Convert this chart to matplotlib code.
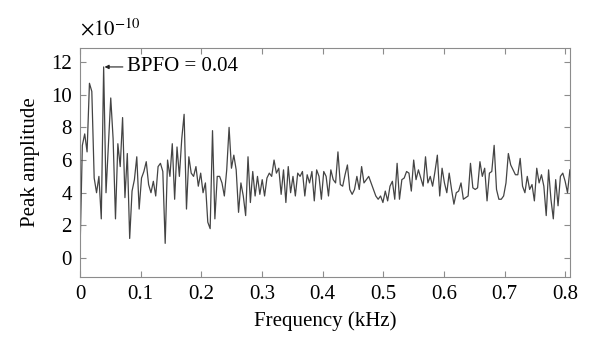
import numpy as np
import matplotlib
matplotlib.use('Agg')
import matplotlib.pyplot as plt

plt.rcParams['font.family'] = ['Liberation Serif', 'DejaVu Serif']
plt.rcParams['mathtext.fontset'] = 'stix'

# spectrum bin spacing (kHz) and peak amplitudes (x1e-10)
freq_step = 0.0039
amp_0 = [0.3, 6.9, 7.6, 6.5, 10.7, 10.2, 4.9, 4.0, 5.0, 2.4, 11.7, 4.0, 6.9, 9.8, 7.3, 2.4,
         7.0, 5.6, 8.6, 3.7, 6.4, 1.2, 4.1, 4.8, 6.2, 3.0, 4.9, 5.3, 5.9, 4.5, 4.0, 4.7,
         3.8, 5.6]
amp_1 = [5.8, 5.3, 0.9, 6.0, 5.0, 7.0, 3.6, 6.8, 5.0, 7.3, 8.8, 3.0, 6.2, 5.2, 5.0, 5.6,
         4.4, 5.2, 4.0, 4.6, 2.2, 1.8, 7.8, 2.4, 5.0, 5.0, 4.6, 3.8, 5.4, 8.0, 5.5, 6.3,
         5.4, 2.8, 4.6]
amp_2 = [3.8, 2.6, 6.2, 3.4, 5.3, 3.8, 5.0, 3.9, 4.8, 3.8, 4.9, 5.2, 5.0, 6.0, 5.2, 5.5,
         3.9, 5.4, 3.4, 5.6, 4.0, 5.0, 3.8, 5.2, 5.0, 5.3, 3.8, 5.1, 4.6, 5.3, 3.5, 5.4,
         5.0, 3.6, 5.3]
amp_3 = [5.0, 3.8, 5.4, 4.8, 4.6, 6.5, 4.5, 4.4, 5.1, 5.7, 4.2, 3.9, 4.2, 5.0, 4.2, 5.6,
         4.6, 4.8, 5.0, 4.6, 4.2, 3.8, 3.6, 3.8, 3.4, 4.1, 3.5, 4.4, 4.7, 3.6, 5.8, 3.6,
         4.8, 4.9, 5.3]
amp_4 = [5.2, 4.1, 6.0, 4.8, 5.4, 4.9, 4.4, 6.2, 4.6, 5.0, 4.4, 5.3, 6.3, 3.8, 5.5, 4.6,
         4.0, 5.2, 4.2, 3.3, 4.0, 4.1, 4.6, 3.6, 3.7, 3.8, 5.8, 4.3, 4.2, 4.3, 5.9, 5.0,
         5.5, 3.5, 5.2]
amp_5 = [5.3, 6.9, 4.2, 3.6, 3.6, 3.8, 4.6, 6.4, 5.7, 5.4, 5.1, 5.1, 6.1, 4.4, 4.0, 5.0,
         4.2, 4.5, 3.5, 5.5, 4.6, 5.1, 4.4, 2.6, 5.4, 3.6, 2.4, 4.8, 3.2, 5.0, 5.2, 4.7,
         4.0, 5.4]

amp = np.array(amp_0 + amp_1 + amp_2 + amp_3 + amp_4 + amp_5)
freq = np.arange(len(amp)) * freq_step

fig = plt.figure(figsize=(6, 3.55), dpi=100)
ax = fig.add_axes([0.1333, 0.2197, 0.8167, 0.6451])

ax.plot(freq, amp, color='#444444', lw=0.9)

ax.set_xlim(0, 0.8075)
ax.set_ylim(-1.16, 12.86)
ax.set_xticks(np.arange(0, 0.81, 0.1))
ax.set_xticklabels(['0', '0.1', '0.2', '0.3', '0.4', '0.5', '0.6', '0.7', '0.8'])
ax.set_yticks(range(0, 13, 2))

for s in ax.spines.values():
    s.set_color('#8c8c8c')
    s.set_linewidth(0.8)
ax.tick_params(direction='in', top=True, right=True, length=4, width=0.8,
               color='#8c8c8c', labelsize=15, pad=6)

ax.set_xlabel('Frequency (kHz)', fontsize=15, labelpad=5)
ax.set_ylabel('Peak amplitude', fontsize=15, labelpad=8)

ax.text(0.0, 1.035, r'$\times10^{-10}$', transform=ax.transAxes, fontsize=15,
        ha='left', va='bottom')

ax.annotate('BPFO = 0.04', xy=(0.0405, 11.7), xytext=(0.0775, 11.7),
            fontsize=15, va='center', ha='left',
            arrowprops=dict(arrowstyle='-|>', color='#222222', lw=0.8,
                            mutation_scale=6, shrinkA=1, shrinkB=0))

fig.savefig('out.png', dpi=100)
